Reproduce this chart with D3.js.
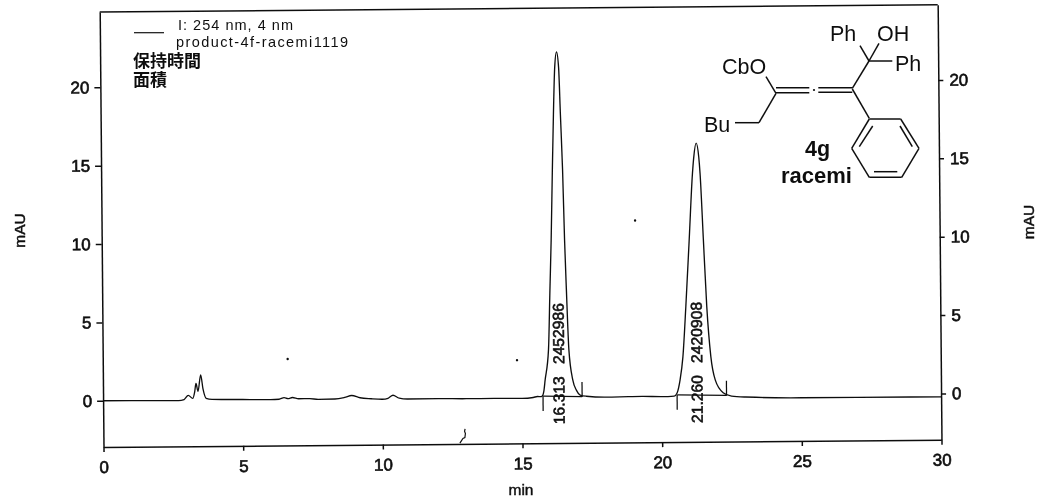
<!DOCTYPE html>
<html><head><meta charset="utf-8">
<script src="https://cdn.jsdelivr.net/npm/d3@7"></script>
<style>html,body{margin:0;padding:0;background:#fff}svg{display:block}
text{font-family:"Liberation Sans",Arial,sans-serif;fill:#111}</style></head><body>
<script>
const traceTimes=[0,1,2,2.7,2.9,3.05,3.21,3.28,3.33,3.40,3.5,3.58,3.69,3.9,5,6,6.3,6.48,6.62,6.78,7,7.4,7.7,8.3,8.65,8.9,9.2,9.6,10,10.2,10.38,10.6,10.9,12,13,14,15,15.4,15.55,15.68,
15.74,15.78,15.83,15.96,16.03,16.09,16.155,16.21,16.27,16.34,16.41,16.46,16.52,16.57,16.62,16.69,16.82,16.95,17.08,17.3,18,18.8,19.3,20,20.45,
20.55,20.66,20.77,20.89,21.03,21.17,21.22,21.31,21.4,21.44,21.54,21.64,21.77,21.92,22.2,22.5,23,25,27,30];
const traceValues=[0,-0.01,-0.02,-0.03,0.03,0.3,0.1,0.5,1.05,0.55,1.6,0.7,0.1,0.03,0,-0.02,0,0.1,0.03,0.1,0.02,0.02,-0.03,-0.02,0.08,0.2,0.05,-0.02,-0.06,0,0.19,0,-0.06,-0.05,-0.07,-0.07,-0.08,-0.03,0.03,0.02,
0.1,0.35,1.07,3,6.8,10,14.5,18,21,22,21,18,14.5,10,6.8,3,1.07,0.4,0.1,0.02,-0.05,-0.03,-0.02,-0.05,-0.02,
0.17,0.99,2.48,5.67,9.9,14.2,15.2,16.1,15.2,14.2,9.9,5.67,2.48,0.99,0.17,-0.05,-0.12,-0.2,-0.2,-0.22];
const xTicks=[0,5,10,15,20,25,30];
const yTicks=[0,5,10,15,20];
const peakTimes=[16.313,21.26];
const peakAreas=["2452986","2420908"];
const integStart=[15.75,20.55];
const integEnd=[17.15,22.32];
const specksT=[6.62,14.83,19.1];
const specksV=[2.56,2.36,11.2];
const artifactT=[12.76,12.87,12.94,12.96,12.93,12.95];
const artifactV=[-2.9,-2.6,-2.55,-2.3,-2.15,-2.0];
const legendLines=["I: 254 nm, 4 nm","product-4f-racemi1119"];
const legendHeads=["保持時間","面積"];

const W=1038,H=502,pw=838,ph=435;
const svg=d3.select("body").append("svg").attr("width",W).attr("height",H);
const defs=svg.append("defs");
defs.append("filter").attr("id","scan").attr("x",0).attr("y",0).attr("width",1).attr("height",1)
  .append("feGaussianBlur").attr("stdDeviation",0.35);
const root=svg.append("g").attr("filter","url(#scan)");
root.append("rect").attr("width",W).attr("height",H).attr("fill","#fff");

const g=root.append("g").attr("transform","translate(103.5,447) rotate(-0.5)");
const x=d3.scaleLinear().domain([0,30]).range([0,pw]);
const y=d3.scaleLinear().domain([-2.95,24.8]).range([0,-ph]);

function style(sel){
  sel.selectAll("path,line").attr("stroke","#111").attr("stroke-width",1.5);
  sel.selectAll("text").attr("font-size",17).attr("fill","#111").attr("stroke","#111").attr("stroke-width",0.65).attr("font-family","Liberation Sans");
}
g.append("g").call(d3.axisBottom(x).tickValues(xTicks).tickFormat(d3.format("d")).tickSize(5).tickSizeOuter(0).tickPadding(9)).call(style);
g.append("g").call(d3.axisLeft(y).tickValues(yTicks).tickSize(6).tickSizeOuter(0).tickPadding(5)).call(style);
g.append("g").attr("transform",`translate(${pw},0)`).call(d3.axisRight(y).tickValues(yTicks).tickSize(5).tickSizeOuter(0).tickPadding(6)).call(style);
g.append("line").attr("x1",0).attr("x2",pw).attr("y1",-ph).attr("y2",-ph).attr("stroke","#111").attr("stroke-width",1.5);

const line=d3.line().x(d=>x(d[0])).y(d=>y(d[1])).curve(d3.curveMonotoneX);
g.append("path").attr("d",line(traceTimes.map((t,i)=>[t,traceValues[i]])))
  .attr("fill","none").attr("stroke","#111").attr("stroke-width",1.35);
g.append("path").attr("d",line.curve(d3.curveLinear)(artifactT.map((t,i)=>[t,artifactV[i]])))
  .attr("fill","none").attr("stroke","#111").attr("stroke-width",1.2);
g.selectAll(".speck").data(specksT).join("circle").attr("class","speck")
  .attr("cx",d=>x(d)).attr("cy",(d,i)=>y(specksV[i])).attr("r",1.2).attr("fill","#111");

peakTimes.forEach((rt,i)=>{
  const seg=(t1,v1,t2,v2)=>g.append("line").attr("x1",x(t1)).attr("x2",x(t2)).attr("y1",y(v1)).attr("y2",y(v2)).attr("stroke","#111").attr("stroke-width",1.25);
  seg(integStart[i],0.05,integStart[i],-0.9);
  seg(integEnd[i],-0.02,integEnd[i],0.93);
  seg(integStart[i],0.05,integEnd[i],0);
  const label=(txt,v)=>g.append("text").attr("transform",`translate(${x(rt)},${y(v)}) rotate(-90)`)
    .attr("text-anchor","middle").attr("dy","0.36em").attr("font-size",15.7)
    .attr("stroke","#111").attr("stroke-width",0.6).text(txt);
  label(rt.toFixed(3),-0.22);
  label(peakAreas[i],4.03);
});

// axis titles
const title=(t,px,py,rot)=>root.append("text").attr("transform",`translate(${px},${py}) rotate(${rot})`)
  .attr("text-anchor","middle").attr("dy","0.36em").attr("font-size",15.5).attr("stroke","#111").attr("stroke-width",0.45).text(t);
title("mAU",19,230.5,-90);
title("mAU",1028,222,-90);
title("min",521,489,0);

// legend
root.append("line").attr("x1",134).attr("x2",164).attr("y1",32.7).attr("y2",32.7).attr("stroke","#111").attr("stroke-width",1.2);
[[178,29.5,115],[176,46.5,172]].forEach((p,i)=>root.append("text").attr("x",p[0]).attr("y",p[1]).attr("font-size",14.5)
  .attr("textLength",p[2]).attr("lengthAdjust","spacing").text(legendLines[i]));
const heads=root.append("text").attr("font-size",17).attr("font-weight",700).style("font-family","'Noto Sans CJK JP'");
legendHeads.forEach((h,i)=>heads.append("tspan").attr("x",133).attr("y",67+i*19).text(h));

// structure inset
const bonds=[[869,61,860,45.7],[869,61,879,43.3],[869,61,892.3,61],[869,61,852.3,88.3],
[818.3,87.7,852.3,87.7],[818.3,92.3,852.3,92.3],[776,87.7,809.3,87.7],[776,92.7,809.3,92.7],
[776,93.3,766,76.7],[776,93.3,759,122.7],[759,122.7,735,122.7],[852.3,89,869.3,118.3],
[869.3,119,900.7,119],[900.7,119,919,148.3],[919,148.3,901.7,177.3],[901.7,177.3,869.3,177.3],[869.3,177.3,851.7,148.3],[851.7,148.3,869.3,119],
[859.3,146.7,872.7,126],[900,126,912.3,146.7],[874,171.7,897.3,171.7]];
root.append("g").selectAll("line").data(bonds).join("line")
  .attr("x1",d=>d[0]).attr("y1",d=>d[1]).attr("x2",d=>d[2]).attr("y2",d=>d[3])
  .attr("stroke","#111").attr("stroke-width",1.5);
root.append("circle").attr("cx",814).attr("cy",90).attr("r",1.1).attr("fill","#111");
const atoms=[["Ph",830,33,21.5,400],["OH",877,33,21.5,400],["Ph",895,63,21.5,400],["CbO",722,66,21.5,400],["Bu",704,124,21.5,400],["4g",805,148,21.5,700],["racemi",781,175,22,700]];
root.append("g").selectAll("text").data(atoms).join("text")
  .attr("x",d=>d[1]).attr("y",d=>d[2]).attr("dy","0.36em").attr("font-size",d=>d[3]).attr("font-weight",d=>d[4]).text(d=>d[0]);
</script></body></html>
